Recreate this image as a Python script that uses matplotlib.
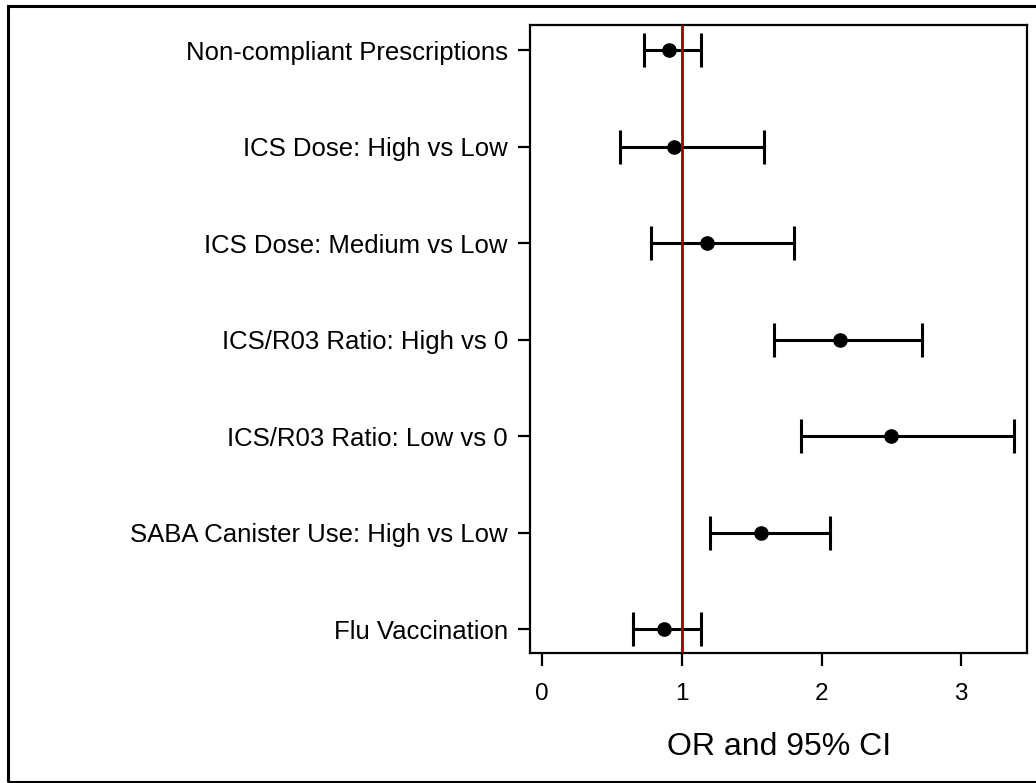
import matplotlib
matplotlib.use("Agg")
import matplotlib.pyplot as plt
from matplotlib.patches import Rectangle
import numpy as np

# odds ratios and 95% CI, top row first
labels = [
    "Non-compliant Prescriptions",
    "ICS Dose: High vs Low",
    "ICS Dose: Medium vs Low",
    "ICS/R03 Ratio: High vs 0",
    "ICS/R03 Ratio: Low vs 0",
    "SABA Canister Use: High vs Low",
    "Flu Vaccination",
]
odds_ratio = [0.91, 0.94, 1.18, 2.13, 2.50, 1.57, 0.87]
ci_low = [0.73, 0.56, 0.78, 1.66, 1.85, 1.20, 0.65]
ci_high = [1.14, 1.59, 1.80, 2.72, 3.38, 2.06, 1.14]
x_ticks = [0, 1, 2, 3]

plt.rcParams['font.family'] = ['Liberation Sans', 'DejaVu Sans']

fig = plt.figure(figsize=(10.36, 7.83), dpi=100, facecolor='white')
ax = fig.add_axes([0.5116, 0.1664, 0.48, 0.8016])

n = len(labels)
ypos = np.arange(n, 0, -1)
or_arr = np.array(odds_ratio)
err = [or_arr - np.array(ci_low), np.array(ci_high) - or_arr]

ax.errorbar(odds_ratio, ypos, xerr=err, fmt='o', color='black', ecolor='black',
            markersize=9.5, elinewidth=2.2, capsize=12, capthick=2.2, zorder=2)
ax.axvline(1, color='#9B0000', lw=2, zorder=3)

ax.set_xlim(-0.088, 3.474)
ax.set_ylim(0.755, 7.26)
ax.set_xticks(x_ticks)
ax.set_xticklabels([str(t) for t in x_ticks], fontsize=17.5)
ax.set_yticks(ypos)
ax.set_yticklabels(labels, fontsize=18.5)
ax.tick_params(axis='both', length=9, width=1.6, color='black')
ax.tick_params(axis='y', pad=7)
ax.tick_params(axis='x', pad=12.5)
for s in ax.spines.values():
    s.set_linewidth(1.6)
ax.set_xlabel("OR and 95% CI", fontsize=23, labelpad=20)

# outer frame (right edge cut off in the original)
fig.add_artist(Rectangle((7.5 / 1036, 1.5 / 783), 1.2, (781.5 - 5.5) / 783,
                         transform=fig.transFigure, fill=False,
                         edgecolor='black', lw=2.2, clip_on=False))

fig.savefig("out.png", dpi=100)
